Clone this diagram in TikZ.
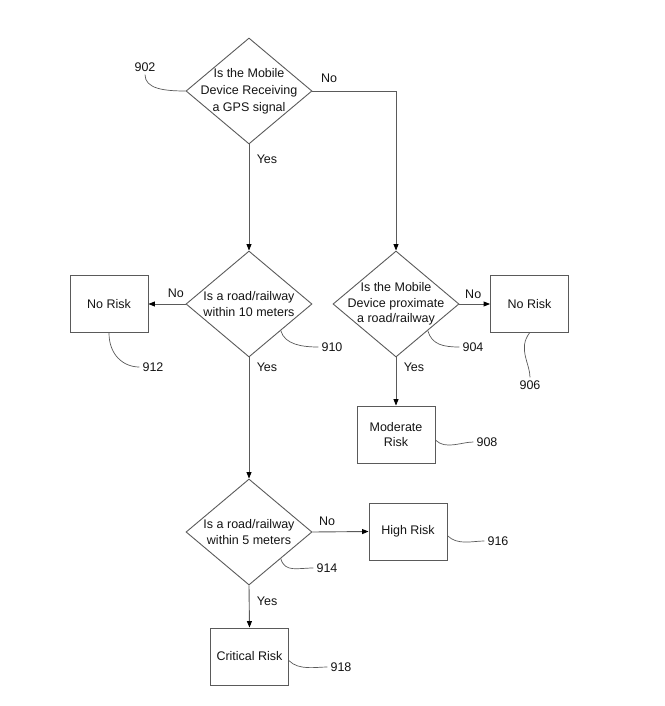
\documentclass[tikz,border=0pt]{standalone}
\usepackage{fontspec}
\setmainfont{Liberation Sans}
\usetikzlibrary{shapes.geometric, arrows.meta, positioning}
\definecolor{linegray}{RGB}{90, 90, 90}
\definecolor{textdark}{RGB}{20, 20, 20}

\begin{document}
\begin{tikzpicture}[x=1pt, y=-1pt,
  every node/.style={font=\fontsize{12.5}{15.5}\selectfont, text=textdark},
  decision/.style={diamond, draw=linegray, line width=0.9pt, minimum width=126pt, minimum height=106pt, inner sep=-20pt, align=center},
  outcome/.style={rectangle, draw=linegray, line width=0.9pt, minimum width=78pt, minimum height=57pt, align=center},
  flow/.style={draw=linegray, line width=0.9pt, -{Triangle[length=6.5pt, width=5pt, color=black]}},
  lead/.style={draw=linegray, line width=0.7pt},
  refnum/.style={inner sep=3pt}]
  \useasboundingbox (0,0) rectangle (664,706);

  % Decisions
  \node[decision, font=\fontsize{12.5}{17}\selectfont] (gps) at (249, 91) {Is the Mobile\\Device Receiving\\a GPS signal};
  \node[decision] (near10) at (249, 304) {Is a road/railway\\within 10 meters};
  \node[decision] (proxim) at (396, 304) {Is the Mobile\\Device proximate\\a road/railway};
  \node[decision] (near5) at (249, 532) {Is a road/railway\\within 5 meters};

  % Outcomes
  \node[outcome] (norisk1) at (109, 304) {No Risk};
  \node[outcome] (norisk2) at (529.5, 304) {No Risk};
  \node[outcome] (moderate) at (396, 434.5) {Moderate\\Risk};
  \node[outcome] (high) at (408, 531.5) {High Risk};
  \node[outcome] (critical) at (249.5, 656.5) {Critical Risk};

  % Flow
  \draw[flow] (gps.east) -| node[pos=0.1, above=5pt] {No} (proxim.north);
  \draw[flow] (gps.south) -- node[pos=0.14, right=4pt] {Yes} (near10.north);
  \draw[flow] (near10.west) -- node[pos=0.26, above=3pt] {No} (norisk1.east);
  \draw[flow] (proxim.east) -- node[pos=0.45, above=2pt] {No} (norisk2.west);
  \draw[flow] (proxim.south) -- node[pos=0.2, right=4pt] {Yes} (moderate.north);
  \draw[flow] (near10.south) -- node[pos=0.08, right=4pt] {Yes} (near5.north);
  \draw[flow] (near5.east) -- node[pos=0.26, above=2pt] {No} (high.west);
  \draw[flow] (near5.south) -- node[pos=0.37, right=4pt] {Yes} (critical.north);

  % Reference numerals
  \node[refnum] (l902) at (145, 67) {902};
  \node[refnum] (l910) at (332, 347) {910};
  \node[refnum] (l912) at (153, 367) {912};
  \node[refnum] (l904) at (473, 347) {904};
  \node[refnum] (l906) at (530, 385) {906};
  \node[refnum] (l908) at (487, 442) {908};
  \node[refnum] (l914) at (327, 568) {914};
  \node[refnum] (l916) at (498, 541) {916};
  \node[refnum] (l918) at (341, 667) {918};

  \draw[lead] (l902.south) .. controls +(0, 14) and +(-22, 0) .. (gps.west);
  \draw[lead] (near10.-40) .. controls +(4, 14) and +(-16, 0) .. (l910.west);
  \draw[lead] (norisk1.south) .. controls +(0, 22) and +(-16, 0) .. (l912.west);
  \draw[lead] (proxim.-40) .. controls +(4, 14) and +(-16, 0) .. (l904.west);
  \draw[lead] (norisk2.south) .. controls +(-12, 16) and +(0, -14) .. (l906.north);
  \draw[lead] (moderate.-8) .. controls +(10, 10) and +(-12, 0) .. (l908.west);
  \draw[lead] (near5.-40) .. controls +(4, 14) and +(-16, 0) .. (l914.west);
  \draw[lead] (high.-6) .. controls +(10, 10) and +(-12, 0) .. (l916.west);
  \draw[lead] (critical.-6) .. controls +(10, 10) and +(-12, 0) .. (l918.west);
\end{tikzpicture}
\end{document}
